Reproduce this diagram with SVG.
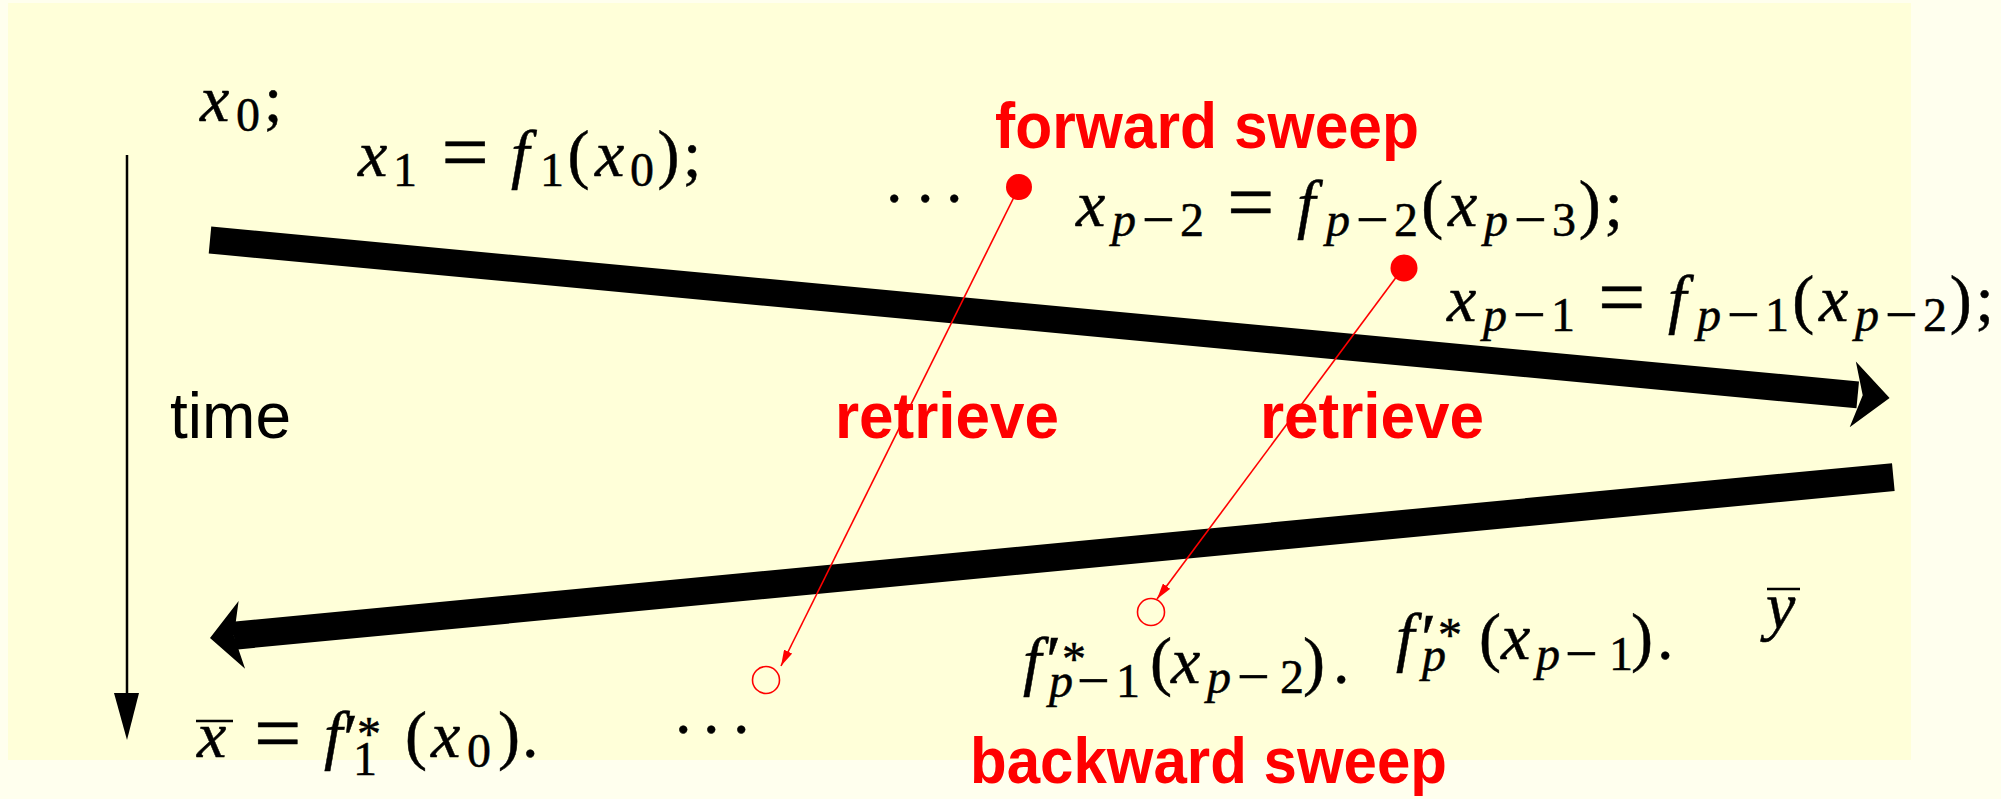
<svg xmlns="http://www.w3.org/2000/svg" width="2001" height="799" viewBox="0 0 2001 799">
<defs>
<style>
.m{font-family:"Liberation Serif","Times New Roman",serif;font-size:66px;fill:#000;stroke:#000;stroke-width:0.5}
.i{font-style:italic}
.s{font-size:48px}
.mn{font-size:58px}
.eq{font-size:84px}
.pr{font-size:70px}
.lbl{font-family:"Liberation Sans",Arial,sans-serif;font-weight:bold;font-size:64px;fill:#FF0000}
.tm{font-family:"Liberation Sans",Arial,sans-serif;font-size:64px;fill:#000}
.rl{stroke:#FF0000;stroke-width:1.6;fill:none}
.bar{stroke:#000;stroke-width:2.5}
.thick{fill:#000}
</style>
<marker id="ra" viewBox="0 0 16 9" refX="16" refY="4.5" markerWidth="16" markerHeight="9" orient="auto" markerUnits="userSpaceOnUse">
<path d="M0,0 L16,4.5 L0,9 z" fill="#FF0000"/>
</marker>
</defs>
<rect x="0" y="0" width="2001" height="799" fill="#FFFFEE"/>
<rect x="8" y="3" width="1903" height="757" fill="#FFFFD9"/>

<g id="connectors">
<g id="forward-arrow" transform="translate(210,240) rotate(5.37)">
<rect class="thick" x="0" y="-13.5" width="1655" height="27"/>
<polygon class="thick" points="1687,0 1650,-33 1660,0 1650,33"/>
</g>
<g id="backward-arrow" transform="translate(210,638) rotate(-5.46)">
<rect class="thick" x="24" y="-14" width="1667" height="28"/>
<polygon class="thick" points="0,0 32,-34 24,0 32,34"/>
</g>
<g id="time-arrow">
<line x1="127" y1="155" x2="127" y2="700" stroke="#000" stroke-width="2.5"/>
<polygon points="114,693 139,693 127,740" fill="#000"/>
</g>
<line id="retrieve-link-1" class="rl" x1="1019" y1="187" x2="781" y2="666" marker-end="url(#ra)"/>
<line id="retrieve-link-2" class="rl" x1="1403" y1="268" x2="1157" y2="599" marker-end="url(#ra)"/>
</g>

<g id="dot-1"><circle cx="1019" cy="187" r="13" fill="#FF0000"/></g>
<g id="dot-2"><circle cx="1404" cy="268" r="13.5" fill="#FF0000"/></g>
<g id="circle-1"><circle cx="766" cy="680" r="13.5" class="rl"/></g>
<g id="circle-2"><circle cx="1151" cy="612" r="13.5" class="rl"/></g>

<g id="n-x0">
<text class="m"><tspan class="i" x="200" y="121">x</tspan><tspan class="s" x="236" y="131">0</tspan><tspan x="264" y="121">;</tspan></text>
</g>
<g id="n-x1">
<text class="m"><tspan class="i" x="358" y="176">x</tspan><tspan class="s" x="393" y="186">1</tspan><tspan class="eq" x="441.4" y="181">=</tspan><tspan class="i" x="511" y="176">f</tspan><tspan class="s" x="540" y="186">1</tspan><tspan x="567.6" y="176">(</tspan><tspan class="i" x="595" y="176">x</tspan><tspan class="s" x="630" y="186">0</tspan><tspan x="657.4" y="176">)</tspan><tspan x="683.1" y="176">;</tspan></text>
</g>
<g id="n-dots-top">
<text class="m" x="886 917 946" y="202">...</text>
</g>
<g id="n-xp2">
<text class="m"><tspan class="i" x="1076" y="226">x</tspan><tspan class="s i" x="1112" y="236">p</tspan><tspan class="mn" x="1142" y="239">−</tspan><tspan class="s" x="1180" y="236">2</tspan><tspan class="eq" x="1227" y="231">=</tspan><tspan class="i" x="1297" y="226">f</tspan><tspan class="s i" x="1326" y="236">p</tspan><tspan class="mn" x="1356" y="239">−</tspan><tspan class="s" x="1394" y="236">2</tspan><tspan x="1421.2" y="226">(</tspan><tspan class="i" x="1448" y="226">x</tspan><tspan class="s i" x="1484" y="236">p</tspan><tspan class="mn" x="1514" y="239">−</tspan><tspan class="s" x="1552" y="236">3</tspan><tspan x="1578.8" y="226">)</tspan><tspan x="1604.5" y="226">;</tspan></text>
</g>
<g id="n-xp1">
<text class="m"><tspan class="i" x="1447" y="321">x</tspan><tspan class="s i" x="1483" y="331">p</tspan><tspan class="mn" x="1513" y="334">−</tspan><tspan class="s" x="1551" y="331">1</tspan><tspan class="eq" x="1598" y="326">=</tspan><tspan class="i" x="1668" y="321">f</tspan><tspan class="s i" x="1697" y="331">p</tspan><tspan class="mn" x="1727" y="334">−</tspan><tspan class="s" x="1765" y="331">1</tspan><tspan x="1792.2" y="321">(</tspan><tspan class="i" x="1819" y="321">x</tspan><tspan class="s i" x="1855" y="331">p</tspan><tspan class="mn" x="1885" y="334">−</tspan><tspan class="s" x="1923" y="331">2</tspan><tspan x="1949.8" y="321">)</tspan><tspan x="1975.5" y="321">;</tspan></text>
</g>
<g id="n-time"><text class="tm" x="170" y="438" textLength="121" lengthAdjust="spacingAndGlyphs">time</text></g>
<g id="n-forward"><text class="lbl" x="995" y="148" textLength="424" lengthAdjust="spacingAndGlyphs">forward sweep</text></g>
<g id="n-retrieve-1"><text class="lbl" x="835" y="438" textLength="224" lengthAdjust="spacingAndGlyphs">retrieve</text></g>
<g id="n-retrieve-2"><text class="lbl" x="1260" y="438" textLength="224" lengthAdjust="spacingAndGlyphs">retrieve</text></g>
<g id="n-backward"><text class="lbl" x="970" y="783" textLength="477" lengthAdjust="spacingAndGlyphs">backward sweep</text></g>

<g id="n-xbar">
<line class="bar" x1="196" y1="721" x2="233" y2="721"/>
<text class="m"><tspan class="i" x="197" y="757">x</tspan><tspan class="eq" x="254" y="762">=</tspan><tspan class="i" x="324" y="757">f</tspan><tspan class="pr" x="343" y="762">′</tspan><tspan class="s" x="357" y="750">*</tspan><tspan class="s" x="353" y="775">1</tspan><tspan x="405" y="757">(</tspan><tspan class="i" x="431" y="757">x</tspan><tspan class="s" x="467" y="767">0</tspan><tspan x="498" y="757">)</tspan><tspan x="522" y="757">.</tspan></text>
</g>
<g id="n-dots-bottom">
<text class="m" x="675 703 733" y="733">...</text>
</g>
<g id="n-fp1">
<text class="m"><tspan class="i" x="1023" y="683">f</tspan><tspan class="pr" x="1046" y="684">′</tspan><tspan class="s" x="1062" y="675">*</tspan><tspan class="s i" x="1049" y="697">p</tspan><tspan class="mn" x="1077" y="700">−</tspan><tspan class="s" x="1116" y="697">1</tspan><tspan x="1150" y="683">(</tspan><tspan class="i" x="1171" y="683">x</tspan><tspan class="s i" x="1207" y="693">p</tspan><tspan class="mn" x="1237" y="696">−</tspan><tspan class="s" x="1280" y="693">2</tspan><tspan x="1303" y="683">)</tspan><tspan x="1333" y="683">.</tspan></text>
</g>
<g id="n-fp">
<text class="m"><tspan class="i" x="1396" y="659">f</tspan><tspan class="pr" x="1421" y="662">′</tspan><tspan class="s" x="1438" y="651">*</tspan><tspan class="s i" x="1422" y="671">p</tspan><tspan x="1479" y="659">(</tspan><tspan class="i" x="1501" y="659">x</tspan><tspan class="s i" x="1536" y="670">p</tspan><tspan class="mn" x="1565" y="673">−</tspan><tspan class="s" x="1609" y="670">1</tspan><tspan x="1631" y="659">)</tspan><tspan x="1657" y="659">.</tspan></text>
</g>
<g id="n-ybar">
<line class="bar" x1="1767" y1="589" x2="1800" y2="589"/>
<text class="m"><tspan class="i" x="1766" y="628">y</tspan></text>
</g>
</svg>
